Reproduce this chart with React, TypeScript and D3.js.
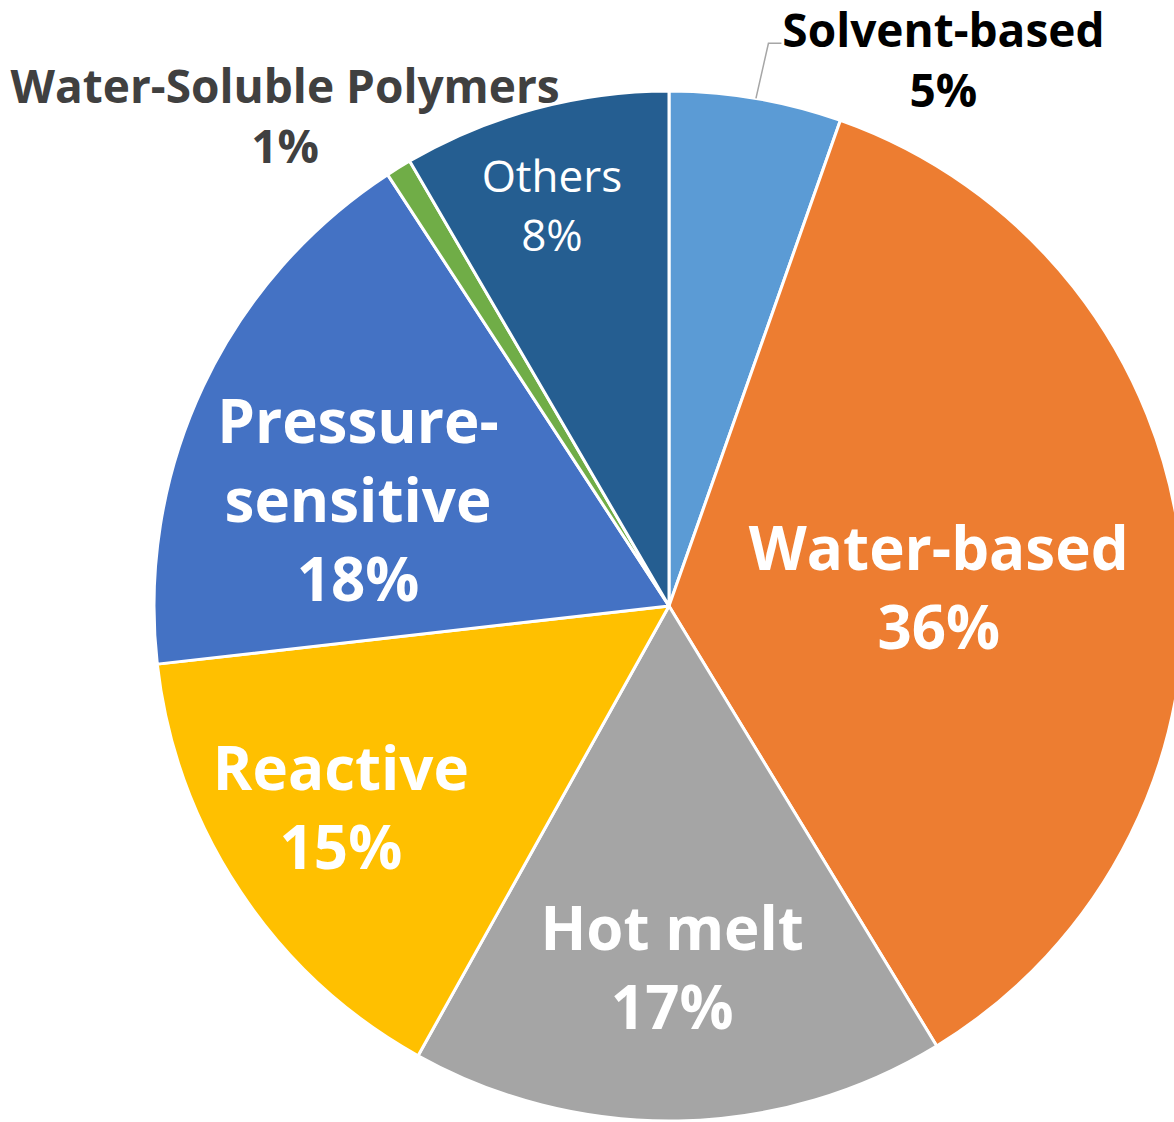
import React, { useEffect } from "react";
import * as d3 from "d3";

const categories = ["Solvent-based", "Water-based", "Hot melt", "Reactive", "Pressure-sensitive", "Water-Soluble Polymers", "Others"];
const shares = [5.4, 35.9, 16.8, 15.1, 17.6, 0.8, 8.4];
const percentLabels = ["5%", "36%", "17%", "15%", "18%", "1%", "8%"];
const labelLines = [["Solvent-based"], ["Water-based"], ["Hot melt"], ["Reactive"], ["Pressure-", "sensitive"], ["Water-Soluble Polymers"], ["Others"]];
const colors = ["#5B9BD5", "#ED7D31", "#A5A5A5", "#FFC000", "#4472C4", "#70AD47", "#255E91"];

// label layout: angle (deg clockwise from top), radius as fraction of pie radius, style
const labelAngle = [26.7, 86.1, 179.5, 238.4, 288.8, 321.9, 343.7];
const labelRadius = [1.186, 0.525, 0.703, 0.748, 0.638, 1.208, 0.81];
const labelBold = [true, true, true, true, true, true, false];
const labelColor = ["#000000", "#ffffff", "#ffffff", "#ffffff", "#ffffff", "#404040", "#ffffff"];
const labelSize = [46, 60, 60, 60, 60, 46, 44];

const W = 1174, H = 1122;
const cx = 669, cy = 606, R = 515;
const FONT = "'Open Sans', 'Noto Sans', sans-serif";

export default function App() {
  useEffect(() => {
    document.body.style.margin = "0";
    document.body.style.overflow = "hidden";
  }, []);

  const pie = d3.pie<number>().sort(null).value((d) => d);
  const arcs = pie(shares);
  const arcGen = d3.arc<d3.PieArcDatum<number>>().innerRadius(0).outerRadius(R);

  // leader line for solvent-based label
  const s0 = arcs[0];
  const mid0 = (s0.startAngle + s0.endAngle) / 2;
  const p1 = [Math.sin(mid0) * R, -Math.cos(mid0) * R];
  const la = (labelAngle[0] * Math.PI) / 180;
  const lblC = [Math.sin(la) * labelRadius[0] * R, -Math.cos(la) * labelRadius[0] * R];

  return (
    <svg width={W} height={H} style={{ display: "block", background: "#fff" }}>
      <g transform={`translate(${cx},${cy})`}>
        {arcs.map((a, i) => (
          <path key={i} d={arcGen(a) || ""} fill={colors[i]} stroke="#ffffff" strokeWidth={3} strokeLinejoin="round" />
        ))}
        <polyline
          points={`${p1[0]},${p1[1]} ${lblC[0] - 175},${lblC[1] - 17} ${lblC[0] - 162},${lblC[1] - 17}`}
          fill="none"
          stroke="#A6A6A6"
          strokeWidth={1.5}
        />
        {arcs.map((a, i) => {
          const ang = (labelAngle[i] * Math.PI) / 180;
          const r = labelRadius[i] * R;
          const x = Math.sin(ang) * r;
          const y = -Math.cos(ang) * r;
          const fs = labelSize[i];
          const lh = fs * 1.32;
          const lines = [...labelLines[i], percentLabels[i]];
          const capH = fs * 0.72;
          const total = capH + lh * (lines.length - 1);
          const firstBase = y - total / 2 + capH;
          return (
            <text
              key={"t" + i}
              x={x}
              textAnchor="middle"
              fontFamily={FONT}
              fontWeight={labelBold[i] ? 700 : 400}
              fontSize={fs}
              fill={labelColor[i]}
            >
              {lines.map((ln, j) => (
                <tspan key={j} x={x} y={firstBase + j * lh}>
                  {ln}
                </tspan>
              ))}
            </text>
          );
        })}
      </g>
    </svg>
  );
}
